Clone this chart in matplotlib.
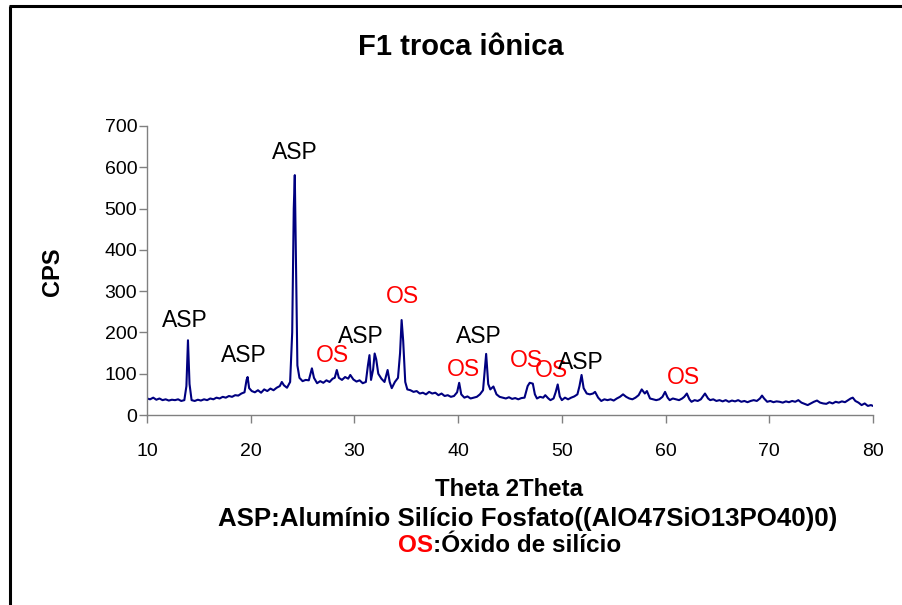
import matplotlib
matplotlib.use("Agg")
import matplotlib.pyplot as plt
from matplotlib.lines import Line2D

plt.rcParams['font.family'] = ['Liberation Sans', 'DejaVu Sans']

# ---- data ----
theta = [10.0, 10.3, 10.6, 10.9, 11.2, 11.5, 11.8, 12.1, 12.4, 12.7, 13.0, 13.3, 13.6, 13.8, 13.95,
         14.1, 14.3, 14.6, 14.9, 15.2, 15.5, 15.8, 16.1, 16.4, 16.7, 17.0, 17.3, 17.6, 17.9, 18.2,
         18.5, 18.8, 19.1, 19.4, 19.6, 19.7, 19.85, 20.1, 20.4, 20.7, 21.0, 21.3, 21.6, 21.9, 22.2,
         22.5, 22.8, 23.0, 23.2, 23.5, 23.8, 24.0, 24.15, 24.25, 24.35, 24.5, 24.7, 25.0, 25.3, 25.6,
         25.9, 26.1, 26.4, 26.7, 27.0, 27.3, 27.6, 27.9, 28.1, 28.3, 28.5, 28.8, 29.1, 29.4, 29.6,
         29.9, 30.2, 30.5, 30.8, 31.1, 31.3, 31.45, 31.6, 31.8, 31.95, 32.1, 32.3, 32.6, 32.9, 33.1,
         33.2, 33.4, 33.6, 33.9, 34.2, 34.4, 34.55, 34.7, 34.9, 35.1, 35.4, 35.7, 36.0, 36.3, 36.6,
         36.9, 37.2, 37.5, 37.8, 38.1, 38.4, 38.7, 39.0, 39.3, 39.6, 39.9, 40.1, 40.3, 40.6, 40.9,
         41.2, 41.5, 41.8, 42.1, 42.4, 42.7, 42.9, 43.1, 43.4, 43.7, 44.0, 44.3, 44.6, 44.9, 45.2,
         45.5, 45.8, 46.1, 46.4, 46.7, 46.9, 47.2, 47.4, 47.6, 47.9, 48.2, 48.4, 48.7, 48.9, 49.2,
         49.4, 49.6, 49.8, 50.0, 50.3, 50.6, 50.9, 51.2, 51.5, 51.7, 51.9, 52.1, 52.4, 52.7, 53.0,
         53.2, 53.5, 53.8, 54.1, 54.4, 54.7, 55.0, 55.3, 55.6, 55.9, 56.2, 56.5, 56.8, 57.1, 57.4,
         57.7, 58.0, 58.2, 58.5, 58.8, 59.1, 59.4, 59.7, 59.95, 60.2, 60.4, 60.7, 61.0, 61.3, 61.6,
         61.8, 62.05, 62.3, 62.5, 62.8, 63.1, 63.4, 63.6, 63.8, 64.1, 64.3, 64.6, 64.9, 65.2, 65.5,
         65.8, 66.1, 66.4, 66.7, 67.0, 67.3, 67.6, 67.9, 68.2, 68.5, 68.8, 69.1, 69.3, 69.5, 69.8,
         70.1, 70.4, 70.7, 71.0, 71.3, 71.6, 71.9, 72.2, 72.5, 72.8, 73.1, 73.4, 73.7, 74.0, 74.3,
         74.6, 74.9, 75.2, 75.5, 75.8, 76.1, 76.4, 76.7, 77.0, 77.3, 77.6, 77.85, 78.05, 78.3, 78.6,
         78.9, 79.2, 79.5, 79.8, 80.0]
cps = [40, 38, 42, 37, 40, 36, 38, 35, 37, 36, 38, 34, 36, 70, 181,
       75, 36, 34, 37, 35, 38, 36, 40, 38, 42, 40, 44, 42, 46, 44,
       48, 47, 52, 55, 85, 92, 65, 58, 55, 60, 54, 62, 58, 64, 60,
       66, 70, 80, 72, 66, 80, 200, 500, 581, 400, 120, 90, 82, 85, 84,
       113, 90, 77, 82, 78, 84, 80, 88, 90, 109, 90, 85, 92, 88, 97,
       86, 81, 84, 77, 80, 120, 145, 85, 110, 149, 135, 100, 88, 80, 100,
       109, 80, 65, 80, 90, 150, 230, 180, 80, 62, 60, 56, 58, 52, 54,
       50, 56, 52, 54, 48, 52, 46, 48, 44, 46, 55, 78, 50, 42, 45,
       40, 42, 44, 50, 60, 148, 75, 62, 69, 50, 44, 42, 40, 43, 39,
       41, 38, 41, 42, 70, 78, 76, 50, 40, 44, 42, 48, 40, 36, 40,
       55, 74, 45, 36, 42, 38, 42, 45, 50, 70, 97, 65, 52, 50, 52,
       56, 42, 34, 38, 36, 38, 35, 40, 44, 50, 44, 40, 38, 42, 48,
       62, 52, 58, 40, 38, 36, 38, 44, 56, 42, 36, 40, 38, 36, 40,
       44, 52, 38, 32, 36, 34, 38, 45, 52, 40, 36, 38, 34, 36, 33,
       36, 32, 35, 33, 36, 32, 34, 31, 34, 36, 34, 40, 47, 40, 32,
       34, 31, 33, 32, 30, 33, 31, 34, 32, 36, 30, 27, 24, 28, 32,
       35, 30, 28, 27, 31, 28, 32, 30, 33, 31, 36, 40, 42, 34, 30,
       24, 28, 22, 24, 22]

peak_labels = ["ASP", "ASP", "ASP", "OS", "ASP", "OS", "OS", "ASP", "OS", "OS", "ASP", "OS"]
peak_label_x = [13.66, 19.29, 24.27, 27.89, 30.59, 34.64, 40.47, 42.01, 46.61, 49.02, 51.83, 61.71]
peak_label_y = [230, 145, 636, 143, 189, 287, 110, 189, 131, 107, 127, 91]

x_ticks = [10, 20, 30, 40, 50, 60, 70, 80]
y_ticks = [0, 100, 200, 300, 400, 500, 600, 700]

title = "F1 troca iônica"
ylabel = "CPS"
xlabel = "Theta 2Theta"
legend_asp = "ASP:Alumínio Silício Fosfato((AlO47SiO13PO40)0)"
legend_os_key = "OS"
legend_os_text = ":Óxido de silício"

W, H = 902, 605
fig = plt.figure(figsize=(W / 100, H / 100), dpi=100)
fig.patch.set_facecolor("white")

ax = fig.add_axes([147 / W, 1 - 415 / H, (873 - 147) / W, (415 - 126) / H])
ax.plot(theta, cps, color="#000080", lw=1.5)
ax.set_xlim(10, 80)
ax.set_ylim(0, 700)
ax.set_xticks(x_ticks)
ax.set_yticks(y_ticks)
ax.tick_params(axis="both", direction="out", length=6, width=1, color="#808080",
               labelsize=14, labelcolor="black")
ax.tick_params(axis="y", pad=1)
ax.tick_params(axis="x", pad=14)
for s in ["top", "right"]:
    ax.spines[s].set_visible(False)
for s in ["left", "bottom"]:
    ax.spines[s].set_color("#808080")
    ax.spines[s].set_linewidth(1)

for lab, lx, ly in zip(peak_labels, peak_label_x, peak_label_y):
    ax.text(lx, ly, lab, ha="center", va="center", fontsize=16.5,
            color="red" if lab == "OS" else "black")

fig.text(461 / W, 1 - 47 / H, title, ha="center", va="center", fontsize=21, fontweight="bold")
fig.text(52 / W, 1 - 272 / H, ylabel, ha="center", va="center", rotation=90,
         fontsize=17, fontweight="bold")
fig.text(509.5 / W, 1 - 490 / H, xlabel, ha="center", va="center", fontsize=17.3, fontweight="bold")
fig.text(218 / W, 1 - 519 / H, legend_asp, ha="left", va="center", fontsize=18.6, fontweight="bold")
fig.text(433 / W, 1 - 546 / H, legend_os_key, ha="right", va="center", fontsize=17.5,
         fontweight="bold", color="red")
fig.text(433 / W, 1 - 546 / H, legend_os_text, ha="left", va="center", fontsize=17.5,
         fontweight="bold", color="black")

# outer frame (left and top edges)
fig.add_artist(Line2D([10 / W, 10 / W], [0, 1 - 6 / H], color="black", lw=2.2,
                      transform=fig.transFigure, solid_capstyle="butt"))
fig.add_artist(Line2D([9 / W, 1], [1 - 6 / H, 1 - 6 / H], color="black", lw=2.2,
                      transform=fig.transFigure, solid_capstyle="butt"))

fig.savefig("out.png", dpi=100, facecolor="white")
